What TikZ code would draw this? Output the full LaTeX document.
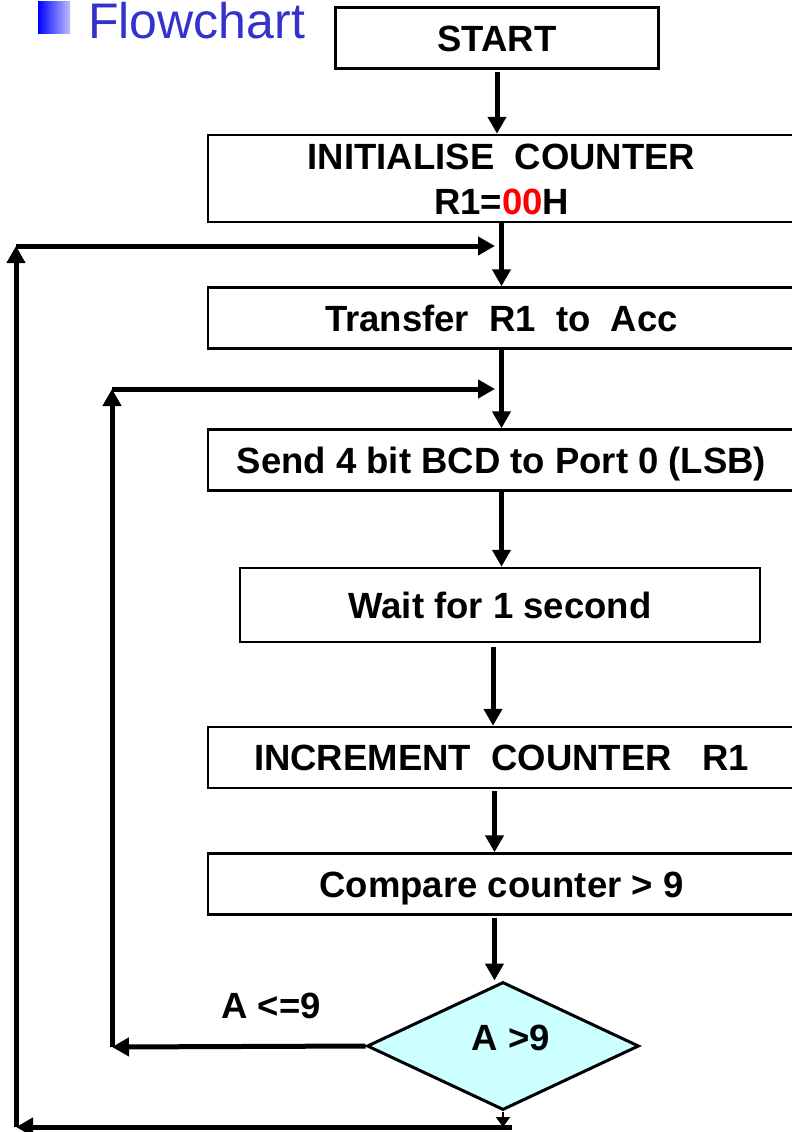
\documentclass[tikz,border=0pt]{standalone}
\usepackage{fontspec}
\setmainfont{Liberation Sans}
\usetikzlibrary{shapes.geometric,arrows.meta,calc}
\definecolor{titleblue}{RGB}{51,51,204}
\definecolor{decfill}{RGB}{204,255,255}

\begin{document}
\begin{tikzpicture}[x=1pt,y=-1pt]
    \tikzstyle{block} = [rectangle, draw, line width=2.5pt, text centered, inner sep=0pt, font=\fontsize{36.5}{45}\selectfont\bfseries, text height=26.5pt, text depth=0pt, minimum width=587pt, minimum height=61pt]
    \tikzstyle{decision} = [diamond, draw, line width=3pt, fill=decfill, inner sep=0pt, font=\fontsize{36.5}{45}\selectfont\bfseries, text height=26.5pt, text depth=0pt, minimum width=272pt, minimum height=128pt]
    \tikzstyle{arrow} = [line width=5pt,-{Triangle[length=17pt,width=18pt]}]
    \tikzstyle{smallarrow} = [line width=2pt,-{Triangle[length=10pt,width=14pt]}]

    \useasboundingbox (0,0) rectangle (792,1132);
    \clip (0,0) rectangle (792,1132);

    % title
    \shade [left color=blue, right color=blue!25] (38,2) rectangle (70,34);
    \node (title) [anchor=base west, inner sep=0pt, text=titleblue, font=\fontsize{50}{60}\selectfont] at (88,38.5) {Flowchart};

    \node (start) [block, minimum width=323pt] at (497,38) {START};
    \node (init) [block, align=center, text height=71pt, minimum height=87pt] at (501.5,178.5) {INITIALISE~~COUNTER\\R1=\textcolor{red}{00}H};
    \node (transfer) [block] at (501.5,318) {Transfer~~R1~~to~~Acc};
    \node (send) [block] at (501.5,460) {Send 4 bit BCD to Port 0 (LSB)};
    \node (wait) [block, minimum width=520pt, minimum height=74pt] at (500,605) {Wait for 1 second};
    \node (incr) [block] at (501.5,757.5) {INCREMENT~~COUNTER~~~R1};
    \node (comp) [block] at (501.5,884) {Compare counter > 9};
    \node (dec) [decision] at (503,1046) {\raisebox{9pt}{\hspace*{16pt}A >9}};
    \node (less) [font=\fontsize{36.5}{45}\selectfont\bfseries] at (271,1006) {A <=9};

    \coordinate (outer) at (16,1127);
    \coordinate (outtop) at (16,246);
    \coordinate (joina) at (495,246);
    \coordinate (inner) at (112,1047);
    \coordinate (intop) at (112,389);
    \coordinate (joinb) at (495,389);

    \draw [arrow, shorten <=2pt] (start.south) -- (start.south |- init.north);
    \draw [arrow] (init) -- (transfer);
    \draw [arrow] (transfer) -- (send);
    \draw [arrow] (send.south) -- (send.south |- wait.north);
    \draw [arrow, shorten <=4pt] ([xshift=-7pt]wait.south) -- ([xshift=-7pt]wait.south |- incr.north);
    \draw [arrow, shorten <=2pt] ([xshift=-7pt]incr.south) -- ([xshift=-7pt]incr.south |- comp.north);
    \draw [arrow, shorten <=2pt] ([xshift=-7pt]comp.south) -- ([xshift=-7pt]comp.south |- dec.north);

    % A <= 9 loop
    \draw [arrow] (dec.west) -- (inner);
    \draw [arrow] (inner) -- (intop);
    \draw [arrow] (intop) -- (joinb);

    % A > 9 loop
    \draw [smallarrow] (dec.south) -- (dec.south |- outer);
    \draw [arrow] ([xshift=9pt]dec.south |- outer) -- (outer);
    \draw [arrow] (outer) -- (outtop);
    \draw [arrow] (outtop) -- (joina);
\end{tikzpicture}
\end{document}
